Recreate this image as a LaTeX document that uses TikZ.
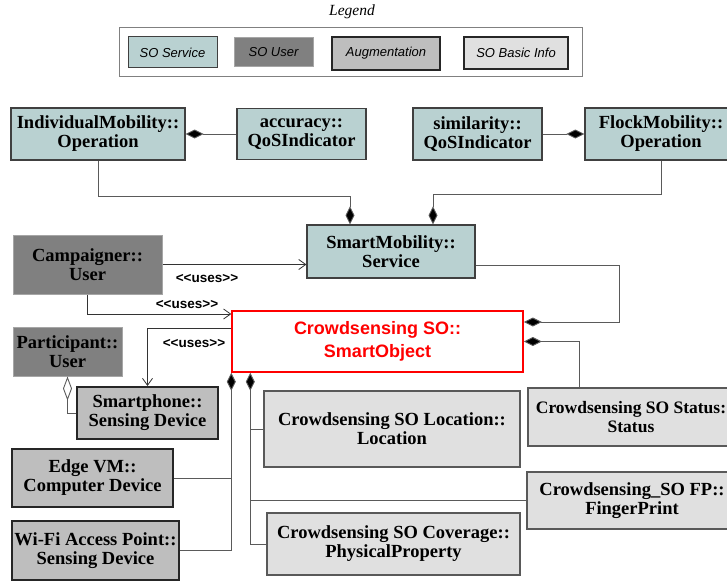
\documentclass[tikz,border=0pt]{standalone}
\usepackage{fontspec}
\setmainfont{Liberation Serif}
\setsansfont{Liberation Sans}
\usetikzlibrary{arrows.meta}

\definecolor{svcfill}{HTML}{B9D1D1}
\definecolor{userfill}{HTML}{808080}
\definecolor{augfill}{HTML}{BEBEBE}
\definecolor{infofill}{HTML}{E0E0E0}
\definecolor{wire}{HTML}{5A5A5A}

\begin{document}
\begin{tikzpicture}[x=1pt,y=-1pt,
  box/.style={draw,align=center,inner sep=0pt,font=\fontsize{18.5}{19}\selectfont\bfseries},
  svc/.style={box,fill=svcfill,draw=black!75,line width=1.2pt},
  usr/.style={box,fill=userfill,draw=black!35,line width=1pt},
  aug/.style={box,fill=augfill,draw=black!85,line width=2pt},
  info/.style={box,fill=infofill,draw=black!65,line width=1.2pt},
  lg/.style={font=\fontsize{13}{14}\selectfont\sffamily\itshape,inner sep=0pt},
  comp/.style={wire,line width=0.9pt,-{Diamond[length=18pt,width=9pt,fill=black]}},
  agg/.style={wire,line width=0.9pt,-{Diamond[open,length=24pt,width=9pt]}},
  uses/.style={black!80,line width=0.8pt,-{Straight Barb[length=7pt,width=10pt]}},
  stereo/.style={font=\fontsize{13.5}{15}\selectfont\sffamily\bfseries,inner sep=0pt}]
\useasboundingbox (0,0) rectangle (727,583);

% legend
\node[font=\fontsize{15.5}{17}\selectfont\itshape] (lgtitle) at (352,12) {Legend};
\draw[black!50,line width=1pt] (119,28) rectangle (582,77);
\node[svc,lg,minimum width=89pt,minimum height=31pt,line width=1pt] (lgsvc) at (172.5,52.5) {SO Service};
\node[usr,lg,minimum width=79pt,minimum height=29pt] (lgusr) at (273.5,52.5) {SO User};
\node[aug,lg,minimum width=108pt,minimum height=33pt] (lgaug) at (386,53.5) {Augmentation};
\node[info,lg,minimum width=104pt,minimum height=32pt,draw=black!85,line width=1.6pt] (lginfo) at (516,53) {SO Basic Info};

% services
\node[svc,minimum width=174pt,minimum height=52pt] (indiv) at (98,134) {IndividualMobility::\\Operation};
\node[svc,minimum width=129pt,minimum height=51pt] (accuracy) at (301.5,134) {accuracy::\\QoSIndicator};
\node[svc,minimum width=129pt,minimum height=52pt] (similarity) at (477.5,134) {similarity::\\QoSIndicator};
\node[svc,minimum width=152pt,minimum height=52pt] (flock) at (661,134) {FlockMobility::\\Operation};
\node[svc,minimum width=168pt,minimum height=53pt] (smart) at (391,251.5) {SmartMobility::\\Service};

% users and devices
\node[usr,minimum width=149pt,minimum height=59pt] (campaigner) at (87.5,264.5) {Campaigner::\\User};
\node[usr,minimum width=109pt,minimum height=49pt] (participant) at (67.5,351.5) {Participant::\\User};
\node[aug,minimum width=141pt,minimum height=52pt] (smartphone) at (147.5,413) {Smartphone::\\Sensing Device};
\node[aug,minimum width=161pt,minimum height=58pt] (edge) at (92.5,478) {Edge VM::\\Computer Device};
\node[aug,minimum width=167pt,minimum height=59pt] (wifi) at (95.5,550.5) {Wi-Fi Access Point::\\Sensing Device};

% smart object
\node[box,draw=red,line width=1.5pt,fill=white,text=red,minimum width=291pt,minimum height=61pt,
  font=\fontsize{18}{23}\selectfont\sffamily\bfseries] (crowd) at (377.5,341.5) {Crowdsensing SO::\\SmartObject};

% basic info
\node[info,minimum width=206pt,minimum height=58pt,font=\fontsize{17.5}{19}\selectfont\bfseries] (status) at (631,417) {Crowdsensing SO Status:\\Status};
\node[info,minimum width=256pt,minimum height=76pt] (location) at (392,429) {Crowdsensing SO Location::\\Location};
\node[info,minimum width=210pt,minimum height=57pt] (fp) at (632,500.5) {Crowdsensing\_SO FP::\\FingerPrint};
\node[info,minimum width=253pt,minimum height=62pt] (coverage) at (393.5,544) {Crowdsensing SO Coverage::\\PhysicalProperty};

\coordinate (trunkL) at (crowd.south west);
\coordinate (trunkR) at ([xshift=19pt]crowd.south west);

% compositions
\draw[comp] (accuracy.west) -- (accuracy.west -| indiv.east);
\draw[comp] (similarity.east) -- (similarity.east -| flock.west);
\draw[comp] (indiv.south) -- ++(0,36) -| ([xshift=-41pt]smart.north);
\draw[comp] (flock.south) -- ++(0,34) -| ([xshift=42pt]smart.north);
\draw[comp] ([yshift=-13.5pt]smart.east) -- ++(144,0) |- ([yshift=19.5pt]crowd.east);
\draw[comp] ([xshift=-52pt]status.north) |- (crowd.east);
\draw[comp] (wifi.east) -| (trunkL);
\draw[wire,line width=0.9pt] (edge.east) -- (edge.east -| trunkL);
\draw[comp] (coverage.west) -| (trunkR);
\draw[wire,line width=0.9pt] (location.west) -- (location.west -| trunkR);
\draw[wire,line width=0.9pt] (fp.west) -- (fp.west -| trunkR);
\draw[agg] (smartphone.west) -| (participant.south);

% uses
\draw[uses] (campaigner.east) -- (campaigner.east -| smart.west);
\node[stereo] (uses1) at (207,279) {<{}<uses>{}>};
\draw[uses] (campaigner.south) |- ([yshift=27.5pt]crowd.west);
\node[stereo] (uses2) at (187,305) {<{}<uses>{}>};
\draw[uses] ([yshift=13.5pt]crowd.west) -| (smartphone.north);
\node[stereo] (uses3) at (194,344) {<{}<uses>{}>};
\end{tikzpicture}
\end{document}
